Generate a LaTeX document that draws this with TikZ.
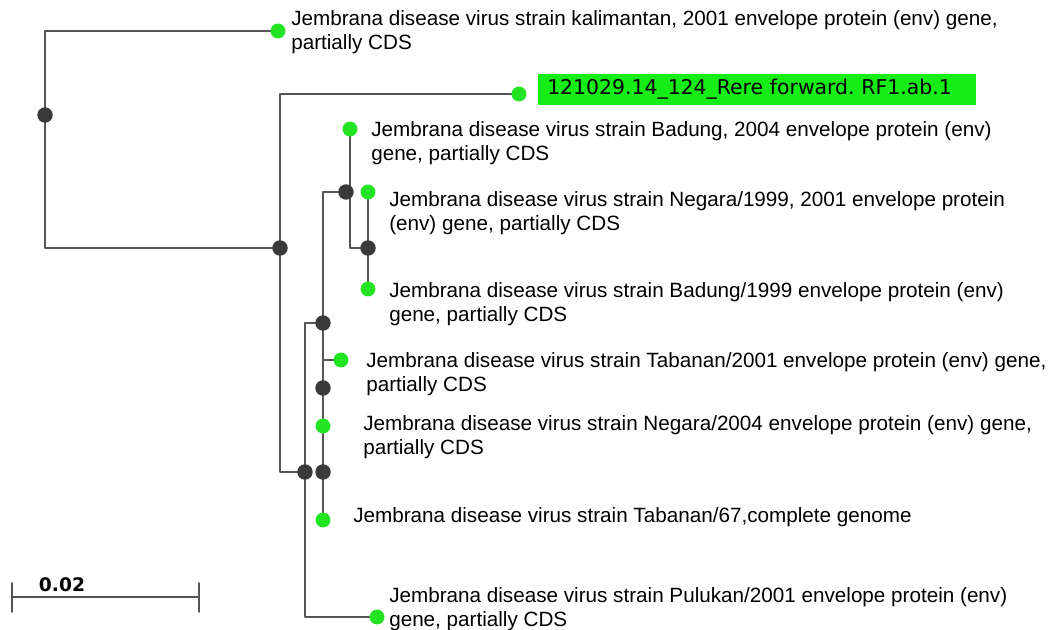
\documentclass[tikz,border=0pt]{standalone}
\usepackage{fontspec}
\setmainfont{Liberation Sans}
\newfontfamily\verdanafont{DejaVu Sans}
\definecolor{leafgreen}{RGB}{34,228,34}
\definecolor{nodegray}{RGB}{58,58,58}
\definecolor{linegray}{RGB}{85,85,85}
\definecolor{boxgreen}{RGB}{22,236,22}
\begin{document}
\begin{tikzpicture}[x=0.75pt, y=-0.75pt, line join=round, line cap=round,
	branch/.style={draw=linegray, line width=1.4pt},
	taxon/.style={anchor=west, align=left, inner sep=0pt,
		font=\fontsize{15.5}{18}\selectfont},
	querybox/.style={anchor=west, fill=boxgreen, inner xsep=6.75pt, inner ysep=0pt,
		minimum height=23.25pt, text width=315pt, align=left,
		font=\verdanafont\fontsize{15.3}{17}\selectfont}]
	\useasboundingbox (0,0) rectangle (1050,629);
	% ve diem
	\path
	(45,115) coordinate (R)
	(278,31) coordinate (K)
	(280,248) coordinate (N1)
	(519,94) coordinate (Q)
	(305,472) coordinate (N2)
	(323,323) coordinate (N3)
	(346,192) coordinate (N4)
	(350,129) coordinate (B04)
	(368,248) coordinate (N5)
	(368,192) coordinate (G99)
	(368,289) coordinate (B99)
	(341,360) coordinate (T01)
	(323,388) coordinate (N6)
	(323,426) coordinate (G04)
	(323,472) coordinate (N7)
	(323,520) coordinate (T67)
	(377,617) coordinate (P01)
	(12,597) coordinate (SL)
	(199,597) coordinate (SR)
	;
	% ve nhanh
	\draw[branch] (K) -| (R) |- (N1);
	\draw[branch] (Q) -| (N1) |- (N2);
	\draw[branch] (N3) -| (N2) |- (P01);
	\draw[branch] (N4) -| (N3) -- (N6) -- (G04) -- (N7) -- (T67);
	\draw[branch] (T01) -- (T01 -| N3);
	\draw[branch] (B04) |- (N5);
	\draw[branch] (G99) -- (N5) -- (B99);
	% ve nut
	\foreach \x in {R,N1,N2,N3,N4,N5,N6,N7}{
		\fill[nodegray] (\x) circle (5.8pt);}
	\foreach \x in {K,Q,B04,G99,B99,T01,G04,T67,P01}{
		\fill[leafgreen] (\x) circle (5.6pt);}
	% nhan
	\node[taxon] (LK) at (291,32) {Jembrana disease virus strain kalimantan, 2001 envelope protein (env) gene,\\partially CDS};
	\node[querybox] (LQ) at (538,89) {121029.14\_124\_Rere forward.\ RF1.ab.1};
	\node[taxon] (LB04) at (371,143) {Jembrana disease virus strain Badung, 2004 envelope protein (env)\\gene, partially CDS};
	\node[taxon] (LG99) at (389,213) {Jembrana disease virus strain Negara/1999, 2001 envelope protein\\(env) gene, partially CDS};
	\node[taxon] (LB99) at (389,304) {Jembrana disease virus strain Badung/1999 envelope protein (env)\\gene, partially CDS};
	\node[taxon] (LT01) at (366,374) {Jembrana disease virus strain Tabanan/2001 envelope protein (env) gene,\\partially CDS};
	\node[taxon] (LG04) at (363,437) {Jembrana disease virus strain Negara/2004 envelope protein (env) gene,\\partially CDS};
	\node[taxon] (LT67) at (353,517) {Jembrana disease virus strain Tabanan/67,complete genome};
	\node[taxon] (LP01) at (389,609.5) {Jembrana disease virus strain Pulukan/2001 envelope protein (env)\\gene, partially CDS};
	% thuoc do
	\draw[branch] (SL) -- (SR) (SL) ++(0,-14) -- ++(0,29) (SR) ++(0,-14) -- ++(0,29);
	\node[font=\verdanafont\bfseries\fontsize{14}{16}\selectfont, inner sep=0pt] (LS) at (62,585) {0.02};
\end{tikzpicture}
\end{document}
